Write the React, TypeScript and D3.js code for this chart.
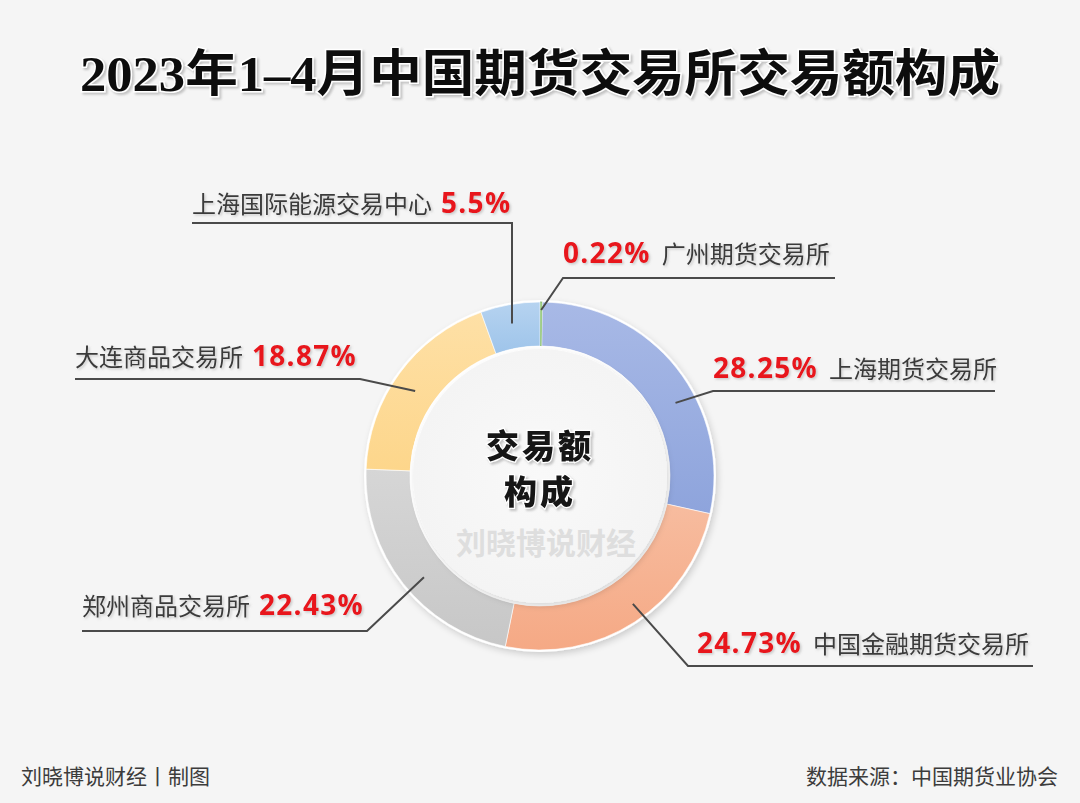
import React from "react";
import * as d3 from "d3";

const names = ["广州期货交易所", "上海期货交易所", "中国金融期货交易所", "郑州商品交易所", "大连商品交易所", "上海国际能源交易中心"];
const values = [0.22, 28.25, 24.73, 22.43, 18.87, 5.5];
const pctLabels = ["0.22%", "28.25%", "24.73%", "22.43%", "18.87%", "5.5%"];
const colors = ["#7cbf5c", "#8ea4dc", "#f5a985", "#c7c7c7", "#fdd68b", "#9ec4ea"];
const colorsLight = ["#9bd07f", "#a8b9e6", "#f7bc9f", "#d6d6d6", "#fee0a6", "#b6d3f0"];

const title = "2023年1–4月中国期货交易所交易额构成";
const centerLines = ["交易额", "构成"];
const watermark = "刘晓博说财经";
const footerLeft = "刘晓博说财经丨制图";
const footerRight = "数据来源：中国期货业协会";

// label layout (positions only)
const layout = [
  { order: "pctName", tx: 563, ty: 263, ly: 278, lx1: 563, lx2: 835, ex: 563, angOff: 0, r: 166 },
  { order: "pctName", tx: 713, ty: 378, ly: 391, lx1: 713, lx2: 995, ex: 713, angOff: 10, r: 154 },
  { order: "pctName", tx: 697, ty: 653, ly: 666, lx1: 688, lx2: 1033, ex: 688, angOff: -3, r: 158 },
  { order: "namePct", tx: 82, ty: 615, ly: 631, lx1: 82, lx2: 367, ex: 367, angOff: -3, r: 154 },
  { order: "namePct", tx: 75, ty: 366, ly: 379, lx1: 75, lx2: 360, ex: 360, angOff: -2, r: 151 },
  { order: "namePct", tx: 192, ty: 213, ly: 223, lx1: 192, lx2: 512, ex: 512, angOff: -0.5, r: 155, vertical: true },
];

const W = 1080, H = 803;
const cx = 540, cy = 476, R_OUT = 174, R_IN = 130;

const CJK = "'Noto Sans CJK SC', 'Noto Sans', sans-serif";
const PCT = "'Open Sans', 'Noto Sans', sans-serif";

export default function App() {
  const pie = d3.pie<number>().sort(null).value((d) => d).startAngle(0).endAngle(2 * Math.PI);
  const arcs = pie(values);
  const arc = d3.arc<d3.PieArcDatum<number>>().innerRadius(R_IN).outerRadius(R_OUT);

  const polar = (a: number, r: number) => [cx + r * Math.sin(a), cy - r * Math.cos(a)];

  return (
    <svg width={W} height={H} style={{ position: "absolute", left: 0, top: 0, display: "block" }}>
      <defs>
        <filter id="ringShadow" x="-20%" y="-20%" width="140%" height="140%">
          <feDropShadow dx="2" dy="3" stdDeviation="3" floodColor="#000" floodOpacity="0.16" />
        </filter>
        <filter id="txtShadow" x="-10%" y="-30%" width="120%" height="160%">
          <feDropShadow dx="2" dy="2" stdDeviation="0.8" floodColor="#9a9a9a" floodOpacity="0.55" />
        </filter>
        <filter id="pctShadow" x="-10%" y="-30%" width="120%" height="160%">
          <feDropShadow dx="1.5" dy="1.5" stdDeviation="0.8" floodColor="#888" floodOpacity="0.4" />
        </filter>
        <radialGradient id="innerBg" cx="50%" cy="50%" r="50%">
          <stop offset="0%" stopColor="#f9f9f9" />
          <stop offset="100%" stopColor="#f4f4f4" />
        </radialGradient>
        {arcs.map((a, i) => (
          <linearGradient key={i} id={`g${i}`} x1="0" y1="0" x2="0" y2="1" gradientUnits="objectBoundingBox">
            <stop offset="0%" stopColor={colorsLight[i]} />
            <stop offset="100%" stopColor={colors[i]} />
          </linearGradient>
        ))}
      </defs>
      <rect x={0} y={0} width={W} height={H} fill="#f5f5f5" />

      {/* title */}
      <text
        x={cx}
        y={91}
        textAnchor="middle"
        fontFamily={"'Liberation Serif', 'DejaVu Serif', 'Noto Sans CJK SC', serif"}
        fontWeight={700}
        fontSize={50}
        fill="#111"
        stroke="#ffffff"
        strokeWidth={3}
        paintOrder="stroke"
        filter="url(#txtShadow)"
        textLength={920}
        lengthAdjust="spacingAndGlyphs"
      >
        {title}
      </text>

      {/* ring */}
      <g filter="url(#ringShadow)">
        <circle cx={cx} cy={cy} r={R_OUT + 2} fill="#ffffff" />
      </g>
      <g>
        {arcs.map((a, i) => (
          <path
            key={i}
            d={arc(a) || ""}
            transform={`translate(${cx},${cy})`}
            fill={`url(#g${i})`}
            stroke={i === 0 ? "#5f9f45" : "#ffffff"}
            strokeWidth={0.6}
          />
        ))}
      </g>
      <circle cx={cx} cy={cy} r={R_IN} fill="#ffffff" />
      <g filter="url(#ringShadow)">
        <circle cx={cx} cy={cy} r={R_IN - 3} fill="url(#innerBg)" />
      </g>

      {/* center text */}
      {centerLines.map((t, i) => (
        <text
          key={i}
          x={cx}
          y={458 + i * 46}
          textAnchor="middle"
          fontFamily={"'Noto Sans CJK SC', serif"}
          fontWeight={900}
          fontSize={33}
          letterSpacing={3}
          fill="#161616"
          stroke="#ffffff"
          strokeWidth={2.5}
          paintOrder="stroke"
          filter="url(#txtShadow)"
        >
          {t}
        </text>
      ))}
      <text x={cx + 6} y={554} textAnchor="middle" fontFamily={CJK} fontWeight={700} fontSize={30} fill="#dedede">
        {watermark}
      </text>

      {/* leaders and labels */}
      {arcs.map((a, i) => {
        const L = layout[i];
        const mid = (a.startAngle + a.endAngle) / 2 + (L.angOff * Math.PI) / 180;
        const [px, py] = polar(mid, L.r);
        const pts = L.vertical
          ? `${L.lx1},${L.ly} ${L.lx2},${L.ly} ${L.ex},${py}`
          : L.ex === L.lx1
          ? `${L.lx2},${L.ly} ${L.lx1},${L.ly} ${px},${py}`
          : `${L.lx1},${L.ly} ${L.lx2},${L.ly} ${px},${py}`;
        return (
          <g key={i}>
            <polyline points={pts} fill="none" stroke="#4a4a4a" strokeWidth={2} strokeLinejoin="miter" />
            {L.order === "namePct" ? (
              <text x={L.tx} y={L.ty} filter="url(#pctShadow)">
                <tspan fontFamily={CJK} fontSize={24} fill="#3a3a3a" fontWeight={400}>
                  {names[i]}
                </tspan>
                <tspan dx={9} fontFamily={PCT} fontSize={28} fontWeight={700} fill="#e8141c" letterSpacing={1.3}>
                  {pctLabels[i]}
                </tspan>
              </text>
            ) : (
              <text x={L.tx} y={L.ty} filter="url(#pctShadow)">
                <tspan fontFamily={PCT} fontSize={28} fontWeight={700} fill="#e8141c" letterSpacing={1.3}>
                  {pctLabels[i]}
                </tspan>
                <tspan dx={11} fontFamily={CJK} fontSize={24} fill="#3a3a3a" fontWeight={400}>
                  {names[i]}
                </tspan>
              </text>
            )}
          </g>
        );
      })}

      {/* footer */}
      <text x={21} y={784} fontFamily={CJK} fontSize={21} fill="#3c3c3c">
        {footerLeft}
      </text>
      <text x={1058} y={784} textAnchor="end" fontFamily={CJK} fontSize={21} fill="#3c3c3c">
        {footerRight}
      </text>
    </svg>
  );
}
